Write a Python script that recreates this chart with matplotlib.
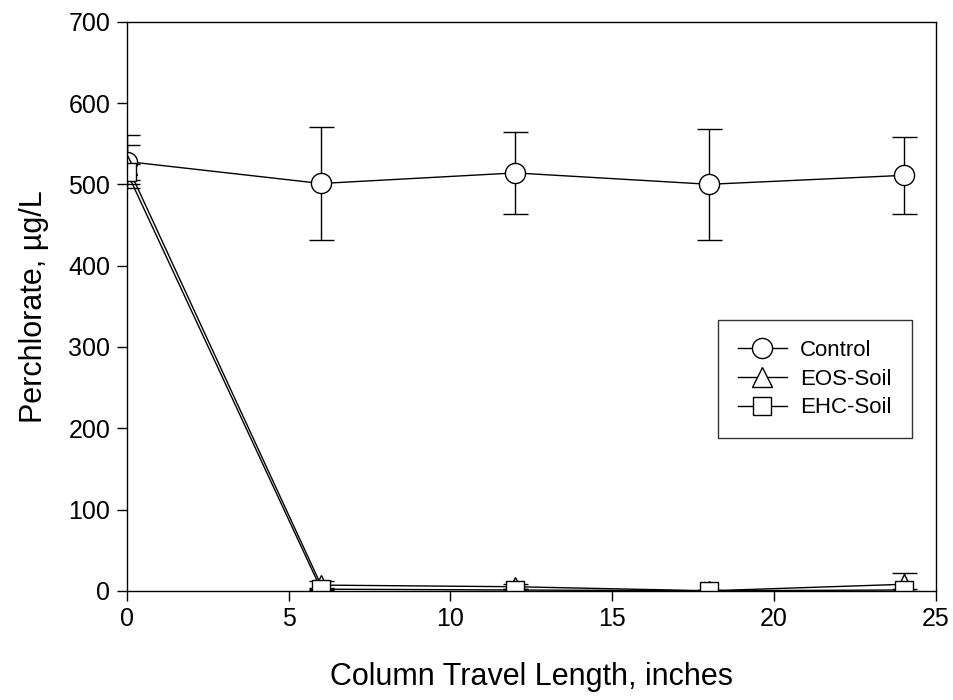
import numpy as np
import matplotlib.pyplot as plt
from matplotlib.lines import Line2D

plt.rcParams['font.family'] = ['Liberation Sans', 'DejaVu Sans']

# Perchlorate along the column, ug/L
travel = [0, 6, 12, 18, 24]

control = [528, 501, 514, 500, 511]
control_err = [33, 69, 50, 68, 47]

eos_soil = [524, 7, 5, 0, 8]
eos_err = [24, 5, 3, 1, 14]

ehc_soil = [515, 2, 1, 0, 1]
ehc_err = [10, 1, 1, 1, 1]

series = [
    ('Control', control, control_err, 'o', 14.5),
    ('EOS-Soil', eos_soil, eos_err, '^', 14.5),
    ('EHC-Soil', ehc_soil, ehc_err, 's', 13.5),
]

fig = plt.figure(figsize=(9.54, 7.0), dpi=100)
ax = fig.add_axes([0.133, 0.156, 0.848, 0.813])

handles = []
for name, vals, err, mk, ms in series:
    ax.errorbar(travel, vals, yerr=err, marker=mk, ms=ms, color='black', lw=1.0,
                mfc='white', mec='black', mew=1.0, ecolor='black',
                elinewidth=1.0, capsize=9, capthick=1.0)
    handles.append(Line2D([], [], color='black', lw=1.0, marker=mk, ms=ms,
                          mfc='white', mec='black', mew=1.0, label=name))

ax.set_xlim(0, 25)
ax.set_ylim(0, 700)
ax.set_xticks(np.arange(0, 26, 5))
ax.set_yticks(np.arange(0, 701, 100))
ax.tick_params(direction='out', length=7, width=1, labelsize=18, pad=5)
for sp in ax.spines.values():
    sp.set_linewidth(1.0)

ax.set_xlabel('Column Travel Length, inches', fontsize=22, labelpad=22)
ax.set_ylabel('Perchlorate, µg/L', fontsize=22, labelpad=14)

leg = ax.legend(handles=handles, loc='upper left', bbox_to_anchor=(0.7305, 0.476),
                fontsize=16, frameon=True, fancybox=False, edgecolor='black',
                borderpad=0.9, handlelength=2.2, handletextpad=0.6,
                labelspacing=0.35, borderaxespad=0)
leg.get_frame().set_linewidth(1.0)

fig.savefig('out.png', dpi=100)
